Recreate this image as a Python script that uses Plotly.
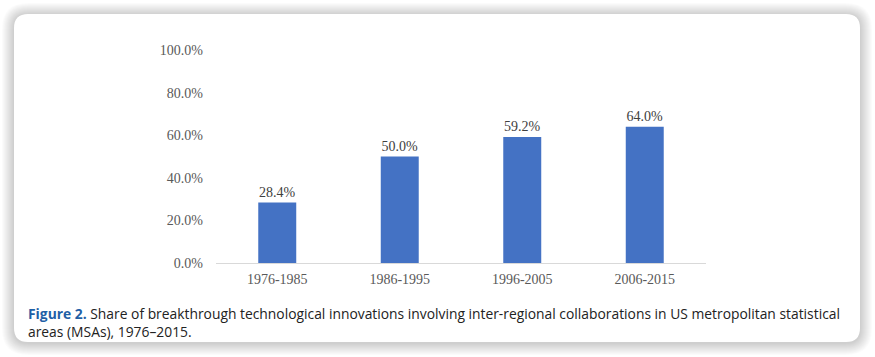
import plotly.graph_objects as go

categories = ["1976-1985", "1986-1995", "1996-2005", "2006-2015"]
shares = [0.284, 0.500, 0.592, 0.640]
y_ticks = [0.0, 0.2, 0.4, 0.6, 0.8, 1.0]
caption_title = "Figure 2."
caption_line1 = "Share of breakthrough technological innovations involving inter-regional collaborations in US metropolitan statistical"
caption_line2 = "areas (MSAs), 1976–2015."

W, H = 875, 357

def px(x):
    return x / W

def py(y):
    return 1 - y / H

def rrect(x0, y0, x1, y1, r):
    pts = []
    pts.append(f"M {px(x0 + r)},{py(y0)}")
    pts.append(f"L {px(x1 - r)},{py(y0)}")
    pts.append(f"Q {px(x1)},{py(y0)} {px(x1)},{py(y0 + r)}")
    pts.append(f"L {px(x1)},{py(y1 - r)}")
    pts.append(f"Q {px(x1)},{py(y1)} {px(x1 - r)},{py(y1)}")
    pts.append(f"L {px(x0 + r)},{py(y1)}")
    pts.append(f"Q {px(x0)},{py(y1)} {px(x0)},{py(y1 - r)}")
    pts.append(f"L {px(x0)},{py(y0 + r)}")
    pts.append(f"Q {px(x0)},{py(y0)} {px(x0 + r)},{py(y0)}")
    pts.append("Z")
    return " ".join(pts)

shapes = []
# soft shadow
for g in range(12, 0, -1):
    shapes.append(dict(type="path", xref="paper", yref="paper",
                       path=rrect(14 - g, 14 - g + 1, 860 + g, 342 + g + 1, 14 + g),
                       fillcolor="rgba(0,0,0,0.016)", line=dict(width=0), layer="below"))
shapes.append(dict(type="path", xref="paper", yref="paper",
                   path=rrect(14, 14, 860, 342, 14),
                   fillcolor="white", line=dict(width=0), layer="below"))

fig = go.Figure(go.Bar(
    x=categories, y=shares,
    marker=dict(color="#4472C4", line=dict(width=0)),
    text=[f"{v*100:.1f}%" for v in shares],
    textposition="outside",
    textfont=dict(family="Liberation Serif", size=14, color="#404040"),
    cliponaxis=False,
    hoverinfo="skip",
))

fig.update_layout(
    width=W, height=H,
    margin=dict(l=0, r=0, t=0, b=0, autoexpand=False),
    paper_bgcolor="white",
    plot_bgcolor="rgba(0,0,0,0)",
    bargap=0.69,
    showlegend=False,
    shapes=shapes,
    xaxis=dict(domain=[px(216), px(706)], showgrid=False, showline=True,
               linecolor="#d9d9d9", linewidth=1, ticks="", automargin=False,
               tickfont=dict(family="Liberation Serif", size=14, color="#595959"),
               ticklabelstandoff=3),
    yaxis=dict(domain=[1 - 263 / H, 1 - 50 / H], range=[0, 1], tickvals=y_ticks,
               tickformat=".1%", showgrid=False, zeroline=False, showline=False,
               automargin=False,
               tickfont=dict(family="Liberation Serif", size=14, color="#595959"),
               ticklabelstandoff=12),
    annotations=[dict(
        xref="paper", yref="paper", x=px(26), y=py(302), xanchor="left", yanchor="top",
        align="left", showarrow=False,
        text=(f"<b><span style='color:#1f5fa6'>{caption_title}</span></b> {caption_line1}<br>{caption_line2}"),
        font=dict(family="Open Sans", size=13.85, color="#222222"),
    )],
)

fig.write_html("out.html", config={"displayModeBar": False},
               post_script="document.body.style.margin='0';document.body.style.overflow='hidden';")
